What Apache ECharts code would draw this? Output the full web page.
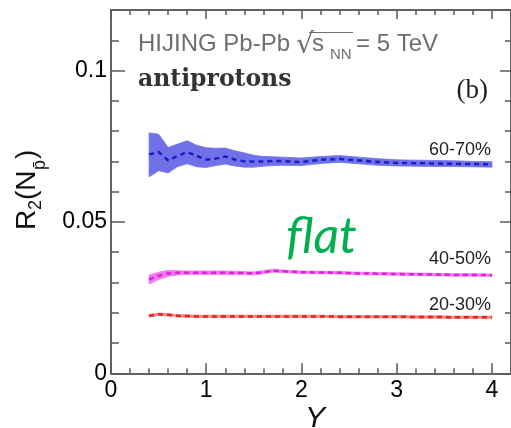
<!DOCTYPE html>
<html><head><meta charset="utf-8">
<script src="https://cdn.jsdelivr.net/npm/echarts@6/dist/echarts.min.js"></script>
<style>html,body{margin:0;padding:0;background:#fff}#c{width:511px;height:428px}</style>
</head><body><div id="c"></div>
<script>
// rapidity Y values
const xY = [0.4,0.5,0.6,0.7,0.8,0.9,1.0,1.1,1.2,1.3,1.4,1.5,1.6,1.7,1.8,2.0,2.2,2.4,2.6,2.8,3.0,3.2,3.4,3.6,3.8,4.0];
// 60-70%
const c6070   = [0.0723,0.0731,0.0703,0.0718,0.0731,0.0718,0.0706,0.0709,0.0716,0.0706,0.0700,0.0700,0.0700,0.0701,0.0701,0.0698,0.0705,0.0708,0.0703,0.0698,0.0695,0.0694,0.0693,0.0692,0.0691,0.0690];
const c6070lo = [0.0649,0.0669,0.0662,0.0683,0.0692,0.0682,0.0680,0.0686,0.0691,0.0685,0.0681,0.0681,0.0684,0.0686,0.0687,0.0686,0.0693,0.0697,0.0692,0.0687,0.0685,0.0684,0.0683,0.0683,0.0682,0.0681];
const c6070hi = [0.0794,0.0790,0.0746,0.0757,0.0768,0.0753,0.0745,0.0743,0.0744,0.0735,0.0728,0.0720,0.0716,0.0715,0.0714,0.0711,0.0716,0.0719,0.0714,0.0709,0.0705,0.0704,0.0703,0.0702,0.0700,0.0699];
// 40-50%
const c4050   = [0.0310,0.0322,0.0330,0.0332,0.0332,0.0332,0.0332,0.0332,0.0332,0.0331,0.0331,0.0330,0.0334,0.0339,0.0337,0.0334,0.0333,0.0332,0.0330,0.0329,0.0328,0.0327,0.0326,0.0325,0.0325,0.0324];
const c4050lo = [0.0295,0.0310,0.0320,0.0325,0.0326,0.0326,0.0326,0.0326,0.0326,0.0326,0.0326,0.0325,0.0329,0.0334,0.0333,0.0330,0.0329,0.0328,0.0326,0.0325,0.0324,0.0323,0.0322,0.0321,0.0321,0.0320];
const c4050hi = [0.0325,0.0334,0.0340,0.0339,0.0338,0.0338,0.0338,0.0338,0.0338,0.0337,0.0336,0.0335,0.0339,0.0344,0.0341,0.0338,0.0337,0.0336,0.0334,0.0333,0.0332,0.0331,0.0330,0.0329,0.0329,0.0328];
// 20-30%
const c2030   = [0.0190,0.0195,0.0193,0.0190,0.0189,0.0188,0.0188,0.0188,0.0188,0.0188,0.0188,0.0188,0.0188,0.0188,0.0188,0.0188,0.0188,0.0187,0.0187,0.0187,0.0187,0.0186,0.0186,0.0185,0.0185,0.0185];
const c2030lo = [0.0186,0.0191,0.0189,0.0186,0.0185,0.0184,0.0184,0.0184,0.0184,0.0184,0.0184,0.0184,0.0184,0.0184,0.0184,0.0184,0.0184,0.0183,0.0183,0.0183,0.0183,0.0182,0.0182,0.0181,0.0181,0.0181];
const c2030hi = [0.0194,0.0199,0.0197,0.0194,0.0193,0.0192,0.0192,0.0192,0.0192,0.0192,0.0192,0.0192,0.0192,0.0192,0.0192,0.0192,0.0192,0.0191,0.0191,0.0191,0.0191,0.0190,0.0190,0.0189,0.0189,0.0189];

const bandLabels = ['60-70%','40-50%','20-30%'];

const chart = echarts.init(document.getElementById('c'), null, {renderer:'canvas'});
const AX = '#5a5a5a';
const FONT = 'Liberation Sans, Arial, sans-serif';

function pts(a){ return xY.map((x,i)=>[x,a[i]]); }
function band(name, lo, hi, color){
  return {
    type:'custom', name:name, silent:true, z:1,
    data: xY.map((x,i)=>[x, lo[i], hi[i]]),
    encode:{x:0, y:[1,2]},
    renderItem:function(params, api){
      if (params.dataIndex !== 0) return null;
      const poly = [];
      for (let i = 0; i < xY.length; i++) poly.push(api.coord([xY[i], lo[i]]));
      for (let i = xY.length - 1; i >= 0; i--) poly.push(api.coord([xY[i], hi[i]]));
      return {type:'polygon', shape:{points:poly}, style:{fill:color, stroke:color, lineWidth:0.8}};
    }
  };
}
function centre(name, c, color){
  return {type:'line', name:name, data:pts(c), symbol:'none', silent:true, z:3,
    lineStyle:{color:color, width:2.5, type:[5,4]}};
}

function xAx(pos, interval, len, labels){
  return {type:'value', min:0, max:4.2, interval:interval, position:pos,
    axisLine:{show:true, onZero:false, lineStyle:{color:AX, width:1.5}},
    axisTick:{show:true, inside:true, length:len, lineStyle:{color:AX, width:1.5}},
    axisLabel:{show:labels, fontSize:23, color:'#000', margin:6, showMaxLabel:false, fontFamily:FONT},
    splitLine:{show:false}};
}
function yAx(pos, interval, len, labels){
  return {type:'value', min:0, max:0.12, interval:interval, position:pos,
    axisLine:{show:true, onZero:false, lineStyle:{color:AX, width:1.5}},
    axisTick:{show:true, inside:true, length:len, lineStyle:{color:AX, width:1.5}},
    axisLabel:{show:labels, fontSize:23, color:'#000', margin:4, showMaxLabel:false, fontFamily:FONT,
      formatter: v => String(+v.toFixed(3))},
    splitLine:{show:false}};
}

const GRAY = '#6e6e6e';
const option = {
  animation:false,
  backgroundColor:'#fff',
  grid:{left:111, top:10, width:402, height:363.3},
  xAxis:[xAx('bottom',1,10,true), xAx('bottom',0.2,5,false), xAx('top',1,9,false), xAx('top',0.2,5,false)],
  yAxis:[yAx('left',0.05,14,true), yAx('left',0.01,8,false), yAx('right',0.05,11,false), yAx('right',0.01,6,false)],
  series:[
    band('b6070', c6070lo, c6070hi, '#7070e8'),
    band('b4050', c4050lo, c4050hi, '#f07af0'),
    band('b2030', c2030lo, c2030hi, '#f28a8a'),
    centre('60-70%', c6070, '#1c1cc8'),
    centre('40-50%', c4050, '#e01ee0'),
    centre('20-30%', c2030, '#e82020')
  ],
  graphic:[
    {type:'text', x:138, y:44, style:{text:'HIJING Pb-Pb', fontSize:24, fill:GRAY, fontFamily:FONT, verticalAlign:'middle'}},
    {type:'text', x:296, y:46, style:{text:'√', fontSize:28, fill:GRAY, fontFamily:'DejaVu Sans', verticalAlign:'middle'}},
    {type:'line', shape:{x1:309, y1:32.5, x2:353, y2:32.5}, style:{stroke:GRAY, lineWidth:1.2}},
    {type:'text', x:312, y:44, style:{text:'s', fontSize:24, fill:GRAY, fontFamily:FONT, verticalAlign:'middle'}},
    {type:'text', x:330, y:55, style:{text:'NN', fontSize:15, fill:GRAY, fontFamily:FONT, verticalAlign:'middle'}},
    {type:'text', x:356, y:44, style:{text:'= 5 TeV', fontSize:24, fill:GRAY, fontFamily:FONT, verticalAlign:'middle'}},
    {type:'text', x:138, y:80, style:{text:'antiprotons', fontSize:23.5, fontWeight:'bold', fill:'#333', fontFamily:'DejaVu Serif', verticalAlign:'middle'}},
    {type:'text', x:488, y:91, style:{text:'(b)', fontSize:27, fill:'#222', fontFamily:'Liberation Serif', align:'right', verticalAlign:'middle'}},
    {type:'text', x:491, y:150, style:{text:bandLabels[0], fontSize:18, fill:'#222', fontFamily:FONT, align:'right', verticalAlign:'middle'}},
    {type:'text', x:491, y:259, style:{text:bandLabels[1], fontSize:18, fill:'#222', fontFamily:FONT, align:'right', verticalAlign:'middle'}},
    {type:'text', x:491, y:305, style:{text:bandLabels[2], fontSize:18, fill:'#222', fontFamily:FONT, align:'right', verticalAlign:'middle'}},
    {type:'text', x:286, y:237, style:{text:'flat', fontSize:50, fontStyle:'italic', fill:'#00b050', fontFamily:'Lato, Open Sans, sans-serif', verticalAlign:'middle'}},
    {type:'text', x:315, y:404, style:{text:'Y', fontSize:30, fontStyle:'italic', fill:'#111', fontFamily:FONT, align:'center', verticalAlign:'top'}},
    {type:'group', x:37, y:230, rotation:Math.PI/2, children:[
      {type:'text', x:0, y:-10, style:{text:'R', fontSize:28, fill:'#111', fontFamily:FONT, verticalAlign:'middle'}},
      {type:'text', x:20, y:-1, style:{text:'2', fontSize:18, fill:'#111', fontFamily:FONT, verticalAlign:'middle'}},
      {type:'text', x:30, y:-10, style:{text:'(N', fontSize:28, fill:'#111', fontFamily:FONT, verticalAlign:'middle'}},
      {type:'text', x:60, y:3, style:{text:'p\u0304', fontSize:18, fill:'#111', fontFamily:FONT, verticalAlign:'middle'}},
      {type:'text', x:71, y:-10, style:{text:')', fontSize:28, fill:'#111', fontFamily:FONT, verticalAlign:'middle'}}
    ]}
  ]
};
chart.setOption(option);
</script></body></html>
